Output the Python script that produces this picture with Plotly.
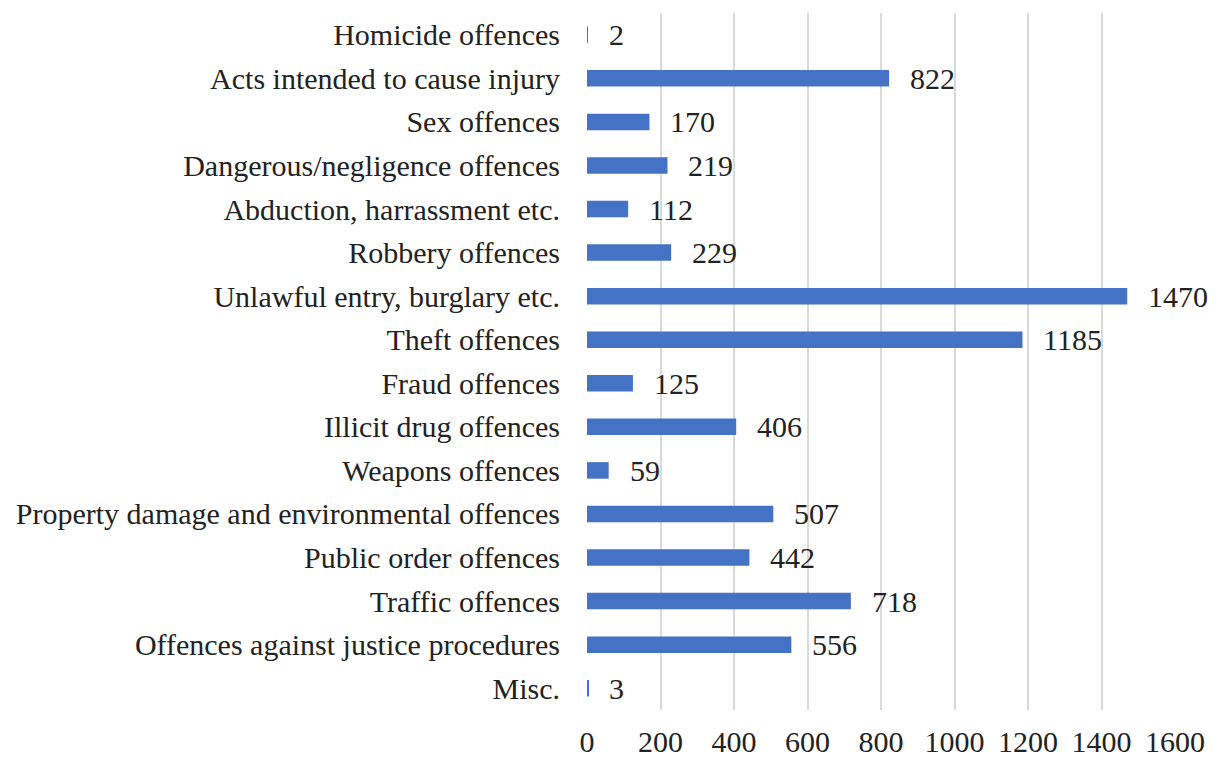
import plotly.graph_objects as go

categories = [
    "Homicide offences",
    "Acts intended to cause injury",
    "Sex offences",
    "Dangerous/negligence offences",
    "Abduction, harrassment etc.",
    "Robbery offences",
    "Unlawful entry, burglary etc.",
    "Theft offences",
    "Fraud offences",
    "Illicit drug offences",
    "Weapons offences",
    "Property damage and environmental offences",
    "Public order offences",
    "Traffic offences",
    "Offences against justice procedures",
    "Misc.",
]
values = [2, 822, 170, 219, 112, 229, 1470, 1185, 125, 406, 59, 507, 442, 718, 556, 3]
x_ticks = [0, 200, 400, 600, 800, 1000, 1200, 1400, 1600]

FONT = "Liberation Serif, Times New Roman, serif"
FS = 30

fig = go.Figure(
    go.Bar(
        x=values,
        y=categories,
        orientation="h",
        marker=dict(color="#4472C4", line=dict(width=0)),
        width=0.38,
    )
)

for c, v in zip(categories, values):
    fig.add_annotation(
        x=v, y=c, text=str(v), showarrow=False, xanchor="left", xshift=19,
        font=dict(family=FONT, size=FS, color="#222222"),
    )

fig.update_layout(
    width=1209,
    height=750,
    margin=dict(l=579, r=42, t=5, b=48),
    plot_bgcolor="white",
    paper_bgcolor="white",
    font=dict(family=FONT, size=FS, color="#222222"),
    showlegend=False,
    xaxis=dict(
        range=[0, 1600],
        tickvals=x_ticks,
        showgrid=True,
        gridcolor="#d9d9d9",
        gridwidth=2,
        zeroline=False,
        showline=False,
        ticks="outside",
        ticklen=5,
        tickcolor="rgba(0,0,0,0)",
        automargin=False,
    ),
    yaxis=dict(
        autorange="reversed",
        showgrid=False,
        zeroline=False,
        showline=False,
        ticks="outside",
        ticklen=20,
        tickcolor="rgba(0,0,0,0)",
        automargin=False,
    ),
)

fig.write_html("out.html")
